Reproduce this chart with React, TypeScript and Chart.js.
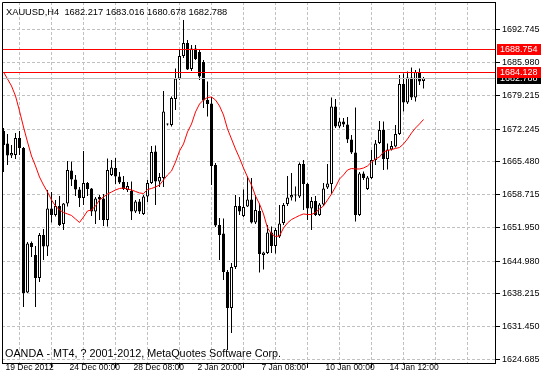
import React, { useEffect, useRef } from 'react';
import { Chart, registerables } from 'chart.js';

Chart.register(...registerables);

const symbolTitle = 'XAUUSD,H4';
const copyrightText = 'OANDA - MT4, ? 2001-2012, MetaQuotes Software Corp.';

const opens = [
  1671.87, 1669.29, 1666.81, 1666.91, 1670.43, 1668.36, 1638.49, 1648.72, 1646.24, 1641.49,
  1650.38, 1648.00, 1655.85, 1654.51, 1656.37, 1652.65, 1656.89, 1663.71, 1661.85, 1659.78,
  1658.02, 1661.12, 1659.99, 1655.23, 1658.23, 1657.92, 1653.48, 1662.78, 1664.22, 1662.47,
  1661.33, 1659.68, 1659.47, 1655.23, 1657.30, 1654.72, 1658.33, 1661.12, 1667.63, 1661.43,
  1662.16, 1673.22, 1673.11, 1678.49, 1682.72, 1687.37, 1690.06, 1684.69, 1688.93, 1688.20,
  1686.13, 1678.28, 1677.56, 1664.84, 1652.44, 1650.69, 1642.73, 1635.29, 1643.76, 1656.37,
  1654.30, 1656.27, 1657.71, 1652.96, 1655.34, 1646.24, 1646.65, 1650.89, 1648.10, 1650.07,
  1652.86, 1656.78, 1658.13, 1658.64, 1658.33, 1665.05, 1660.92, 1655.85, 1657.40, 1654.51,
  1656.68, 1660.19, 1660.92, 1676.94, 1672.80, 1673.84, 1673.22, 1670.12, 1667.43, 1654.51,
  1663.09, 1659.88, 1662.16, 1665.88, 1669.39, 1672.08, 1666.08, 1668.05, 1668.67, 1671.25,
  1681.59, 1677.76, 1682.93, 1678.80, 1684.07, 1682.217,
];

const highs = [
  1672.49, 1671.25, 1668.98, 1671.46, 1671.87, 1668.57, 1648.93, 1649.03, 1648.10, 1650.79,
  1651.62, 1659.68, 1659.26, 1657.61, 1658.44, 1656.99, 1665.67, 1665.57, 1662.78, 1660.30,
  1667.74, 1661.33, 1660.09, 1658.23, 1658.64, 1658.85, 1666.19, 1665.88, 1666.29, 1663.40,
  1662.57, 1661.33, 1661.43, 1657.61, 1657.82, 1658.64, 1661.74, 1668.77, 1668.88, 1663.19,
  1680.14, 1673.42, 1679.00, 1684.79, 1688.61, 1694.82, 1690.68, 1689.65, 1689.65, 1688.82,
  1686.55, 1682.10, 1678.90, 1665.26, 1653.89, 1653.79, 1643.14, 1644.59, 1658.64, 1658.23,
  1659.78, 1662.47, 1662.16, 1658.64, 1656.89, 1646.90, 1652.44, 1652.13, 1651.82, 1656.58,
  1656.99, 1662.57, 1663.19, 1660.40, 1665.36, 1665.88, 1661.12, 1658.23, 1658.44, 1656.99,
  1661.12, 1665.05, 1678.80, 1678.49, 1674.56, 1674.56, 1674.77, 1671.05, 1676.73, 1663.40,
  1663.50, 1662.57, 1667.94, 1670.01, 1673.94, 1673.84, 1669.29, 1669.81, 1673.11, 1683.45,
  1683.76, 1684.17, 1685.00, 1684.48, 1684.79, 1683.016,
];

const lows = [
  1663.40, 1664.84, 1666.29, 1666.08, 1666.91, 1635.49, 1638.39, 1645.83, 1635.49, 1640.66,
  1645.21, 1646.03, 1652.96, 1654.20, 1652.24, 1651.41, 1656.27, 1660.50, 1658.44, 1656.16,
  1656.58, 1658.44, 1654.30, 1652.65, 1653.48, 1652.24, 1652.13, 1662.57, 1660.92, 1660.92,
  1659.68, 1659.26, 1653.48, 1654.92, 1654.72, 1654.51, 1657.20, 1660.92, 1656.58, 1660.30,
  1660.30, 1673.01, 1672.80, 1676.21, 1682.41, 1686.96, 1684.48, 1684.27, 1686.55, 1682.41,
  1676.63, 1674.87, 1660.71, 1652.03, 1645.21, 1641.07, 1626.60, 1630.12, 1643.35, 1654.51,
  1654.10, 1656.16, 1652.75, 1652.65, 1642.62, 1643.24, 1646.45, 1646.65, 1646.55, 1649.76,
  1652.44, 1656.37, 1657.51, 1657.30, 1658.02, 1655.54, 1653.48, 1651.41, 1654.30, 1654.30,
  1656.37, 1659.88, 1658.85, 1672.49, 1672.49, 1672.70, 1669.39, 1667.12, 1653.17, 1654.30,
  1661.74, 1659.68, 1661.95, 1664.84, 1669.19, 1663.81, 1663.91, 1667.84, 1668.46, 1671.05,
  1675.90, 1677.45, 1678.28, 1677.97, 1681.38, 1680.678,
];

const closes = [
  1668.98, 1666.81, 1667.32, 1670.43, 1668.36, 1638.39, 1648.62, 1647.90, 1641.49, 1650.38,
  1648.00, 1655.85, 1654.51, 1656.37, 1652.44, 1656.89, 1663.81, 1661.85, 1659.78, 1658.02,
  1661.12, 1659.88, 1655.23, 1657.92, 1657.71, 1653.48, 1663.81, 1664.33, 1662.47, 1661.23,
  1659.88, 1660.50, 1655.23, 1657.30, 1655.23, 1658.33, 1661.12, 1667.53, 1661.43, 1662.36,
  1675.90, 1673.32, 1678.69, 1682.72, 1687.37, 1690.06, 1684.58, 1688.93, 1686.75, 1683.14,
  1678.18, 1677.45, 1664.64, 1652.34, 1650.38, 1642.73, 1635.29, 1643.76, 1656.37, 1655.23,
  1656.16, 1657.71, 1652.96, 1655.54, 1646.45, 1646.76, 1650.89, 1648.10, 1651.41, 1652.75,
  1656.58, 1658.13, 1658.64, 1658.54, 1665.05, 1660.92, 1655.85, 1657.40, 1654.51, 1656.68,
  1659.99, 1661.02, 1676.94, 1672.80, 1673.84, 1673.22, 1670.12, 1667.43, 1654.51, 1663.09,
  1662.16, 1662.26, 1665.88, 1669.29, 1672.08, 1666.08, 1668.05, 1668.77, 1671.25, 1681.59,
  1677.76, 1682.93, 1678.80, 1684.07, 1682.10, 1682.788,
];

const maValues = [
  1684.07, 1682.62, 1681.17, 1679.11, 1676.01, 1672.70, 1669.60, 1666.70, 1664.64, 1662.36,
  1660.71, 1659.26, 1657.61, 1656.37, 1655.54, 1655.03, 1654.72, 1654.41, 1653.68, 1652.96,
  1654.10, 1655.34, 1655.54, 1656.37, 1657.61, 1658.23, 1658.85, 1659.26, 1659.68, 1659.99,
  1660.09, 1659.88, 1659.68, 1659.37, 1659.06, 1658.95, 1659.78, 1659.99, 1660.30, 1660.71,
  1661.74, 1662.78, 1663.60, 1665.46, 1667.74, 1669.19, 1671.67, 1673.32, 1675.80, 1677.45,
  1678.28, 1678.80, 1678.90, 1678.28, 1677.04, 1675.18, 1672.29, 1670.22, 1668.15, 1666.29,
  1664.22, 1662.36, 1660.71, 1658.44, 1656.78, 1654.72, 1651.82, 1650.58, 1650.07, 1650.17,
  1651.82, 1652.86, 1653.58, 1653.99, 1654.41, 1654.72, 1654.61, 1654.61, 1655.03, 1655.75,
  1656.37, 1657.61, 1658.85, 1660.30, 1661.95, 1662.78, 1663.81, 1664.12, 1664.02, 1664.02,
  1664.22, 1664.64, 1665.46, 1666.08, 1666.50, 1667.53, 1667.84, 1668.05, 1668.26, 1668.46,
  1669.19, 1670.22, 1671.46, 1672.49, 1673.32, 1674.25,
];

const xLabelIndex = [0, 16, 32, 48, 64, 80, 96];
const xLabelText = ['19 Dec 2012', '24 Dec 00:00', '28 Dec 08:00', '2 Jan 20:00', '7 Jan 08:00', '10 Jan 00:00', '14 Jan 12:00'];
const xGridIndex = [0, 8, 16, 24, 32, 40, 48, 56, 64, 72, 80, 88, 96, 104, 112, 120];

const yTickValues = [1692.745, 1685.98, 1679.215, 1672.245, 1665.48, 1658.715, 1651.95, 1644.98, 1638.215, 1631.45, 1624.685];
const yTickLabels = ['1692.745', '1685.980', '1679.215', '1672.245', '1665.480', '1658.715', '1651.950', '1644.980', '1638.215', '1631.450', '1624.685'];

const redLevels = [1684.128, 1688.754];

const xMin = -0.375;
const xMax = 122.875;
const yMin = 1623.915;
const yMax = 1698.5325;

const FONT = "'Liberation Sans', Arial, sans-serif";

export default function App() {
  const canvasRef = useRef<HTMLCanvasElement | null>(null);

  useEffect(() => {
    const canvas = canvasRef.current;
    if (!canvas) return;
    const idx = closes.map((_, i) => i);
    const last = closes.length - 1;
    const bidLevel = closes[last];
    const bodyColors = idx.map((i) => (closes[i] >= opens[i] ? '#ffffff' : '#000000'));

    const mt4Plugin = {
      id: 'mt4Decor',
      afterDatasetsDraw(chart: any) {
        const { ctx, chartArea: a, scales } = chart;
        const ys = scales.y;
        ctx.save();
        const hline = (v: number, color: string) => {
          const py = Math.round(ys.getPixelForValue(v)) + 0.5;
          ctx.strokeStyle = color;
          ctx.lineWidth = 1;
          ctx.beginPath();
          ctx.moveTo(a.left, py);
          ctx.lineTo(a.right, py);
          ctx.stroke();
        };
        hline(bidLevel, '#c0c0c0');
        redLevels.forEach((v) => hline(v, '#ff0000'));
        ctx.restore();
      },
      afterDraw(chart: any) {
        const { ctx, chartArea: a, scales, width } = chart;
        const ys = scales.y;
        ctx.save();
        ctx.strokeStyle = '#000';
        ctx.lineWidth = 1;
        ctx.beginPath();
        ctx.moveTo(a.left + 0.5, a.bottom);
        ctx.lineTo(a.left + 0.5, a.top + 0.5);
        ctx.lineTo(a.right + 1, a.top + 0.5);
        ctx.stroke();
        ctx.fillStyle = '#000';
        ctx.textAlign = 'left';
        ctx.textBaseline = 'alphabetic';
        ctx.font = `9.3px ${FONT}`;
        const header = `${symbolTitle}  ${opens[last].toFixed(3)} ${highs[last].toFixed(3)} ${lows[last].toFixed(3)} ${closes[last].toFixed(3)}`;
        ctx.fillText(header, 6, 14.5);
        ctx.font = `10.8px ${FONT}`;
        ctx.fillText(copyrightText, 5, 356.5);
        const box = (v: number, bg: string) => {
          const py = Math.round(ys.getPixelForValue(v));
          ctx.fillStyle = bg;
          ctx.fillRect(a.right + 2, py - 5, width - a.right - 2, 11);
          ctx.fillStyle = '#fff';
          ctx.font = `9px ${FONT}`;
          ctx.textBaseline = 'middle';
          ctx.fillText(v.toFixed(3), a.right + 5, py + 0.5);
        };
        box(bidLevel, '#000000');
        redLevels.forEach((v) => box(v, '#ff0000'));
        ctx.restore();
      },
    };

    const chart = new Chart(canvas, {
      type: 'bar',
      data: {
        datasets: [
          {
            type: 'line',
            label: 'MA',
            data: idx.map((i) => ({ x: i, y: maValues[i] })),
            borderColor: '#ff0000',
            borderWidth: 1,
            pointRadius: 0,
            tension: 0,
            fill: false,
            order: 0,
          } as any,
          {
            type: 'bar',
            label: 'body',
            data: idx.map((i) => ({ x: i, y: [opens[i], closes[i]] })),
            backgroundColor: bodyColors,
            borderColor: '#000000',
            borderWidth: 1,
            borderSkipped: false,
            barThickness: 3,
            grouped: false,
            minBarLength: 1,
            inflateAmount: 0,
            order: 1,
          } as any,
          {
            type: 'bar',
            label: 'wick',
            data: idx.map((i) => ({ x: i, y: [lows[i], highs[i]] })),
            backgroundColor: '#000000',
            borderWidth: 0,
            barThickness: 1,
            grouped: false,
            inflateAmount: 0,
            order: 2,
          } as any,
        ],
      },
      options: {
        responsive: false,
        animation: false,
        devicePixelRatio: 1,
        layout: { padding: { left: 2, top: 2, right: 0, bottom: 0 } },
        plugins: {
          legend: { display: false },
          tooltip: { enabled: false },
          title: { display: false },
        },
        scales: {
          x: {
            type: 'linear',
            position: 'bottom',
            min: xMin,
            max: xMax,
            offset: false,
            bounds: 'data',
            afterBuildTicks: (s: any) => {
              s.ticks = xGridIndex.map((v) => ({ value: v }));
            },
            afterFit: (s: any) => {
              s.height = 17;
              s.paddingLeft = 0;
              s.paddingRight = 0;
              s.paddingTop = 0;
              s.paddingBottom = 0;
            },
            ticks: {
              autoSkip: false,
              maxRotation: 0,
              minRotation: 0,
              align: 'start',
              labelOffset: 2,
              padding: -5,
              color: '#000',
              font: { family: FONT, size: 8.5 },
              callback: (v: any) => {
                const k = xLabelIndex.indexOf(Number(v));
                return k >= 0 ? xLabelText[k] : '';
              },
            },
            grid: {
              color: (c: any) => (c.tick && c.tick.value === 0 ? 'rgba(0,0,0,0)' : '#c0c0c0'),
              lineWidth: 1,
              drawTicks: true,
              tickLength: 5,
              tickWidth: 1,
              tickColor: (c: any) => (c.tick && xLabelIndex.includes(c.tick.value) ? '#000' : 'rgba(0,0,0,0)'),
            },
            border: { display: true, color: '#000', width: 1, dash: [3, 2] },
          } as any,
          y: {
            type: 'linear',
            position: 'right',
            min: yMin,
            max: yMax,
            bounds: 'data',
            afterBuildTicks: (s: any) => {
              s.ticks = yTickValues.map((v) => ({ value: v }));
            },
            afterFit: (s: any) => {
              s.width = 46;
              s.paddingLeft = 0;
              s.paddingRight = 0;
              s.paddingTop = 0;
              s.paddingBottom = 0;
            },
            ticks: {
              padding: 2,
              color: '#000',
              font: { family: FONT, size: 9 },
              callback: (_v: any, i: number) => yTickLabels[i],
            },
            grid: {
              color: '#c0c0c0',
              lineWidth: 1,
              tickLength: 5,
              tickColor: '#000',
              tickWidth: 1,
            },
            border: { display: true, color: '#000', width: 1, dash: [3, 2] },
          } as any,
        },
      } as any,
      plugins: [mt4Plugin],
    });

    return () => chart.destroy();
  }, []);

  return (
    <div style={{ position: 'absolute', left: 0, top: 0, width: 541, height: 380, background: '#ffffff' }}>
      <canvas ref={canvasRef} width={541} height={380} style={{ display: 'block', width: 541, height: 380 }} />
    </div>
  );
}
